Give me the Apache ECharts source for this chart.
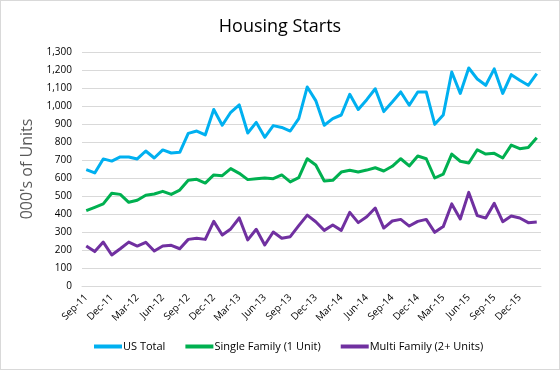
<!DOCTYPE html>
<html>
<head>
<meta charset="utf-8">
<script src="https://cdn.jsdelivr.net/npm/echarts@6/dist/echarts.min.js"></script>
<style>
html,body{margin:0;padding:0;background:#fff;}
#c{width:558px;height:368px;border:1px solid #d9d9d9;}
</style>
</head>
<body>
<div id="c"></div>
<script>
var months = ['Sep-11','Oct-11','Nov-11','Dec-11','Jan-12','Feb-12','Mar-12','Apr-12','May-12','Jun-12','Jul-12','Aug-12',
'Sep-12','Oct-12','Nov-12','Dec-12','Jan-13','Feb-13','Mar-13','Apr-13','May-13','Jun-13','Jul-13','Aug-13',
'Sep-13','Oct-13','Nov-13','Dec-13','Jan-14','Feb-14','Mar-14','Apr-14','May-14','Jun-14','Jul-14','Aug-14',
'Sep-14','Oct-14','Nov-14','Dec-14','Jan-15','Feb-15','Mar-15','Apr-15','May-15','Jun-15','Jul-15','Aug-15',
'Sep-15','Oct-15','Nov-15','Dec-15','Jan-16','Feb-16'];
var usTotal = [646,628,706,694,717,717,706,750,711,756,739,743,
848,861,839,981,893,965,1006,850,909,826,891,881,
861,930,1106,1030,893,930,950,1065,981,1035,1096,969,
1022,1078,1004,1078,1078,898,950,1189,1070,1211,1150,1115,
1206,1070,1174,1143,1115,1180];
var singleFamily = [419,437,456,515,509,465,476,504,511,526,509,533,
587,593,572,617,613,652,626,591,596,600,596,617,
578,602,707,672,583,587,633,643,633,644,657,639,
665,707,667,722,707,600,622,733,693,683,757,733,
737,711,783,763,769,824];
var multiFamily = [222,191,244,172,207,244,222,243,194,222,226,207,
259,265,259,359,283,317,378,256,315,228,300,265,
274,335,394,357,309,339,309,409,352,385,433,322,
361,370,333,359,370,298,330,456,372,520,391,378,
459,357,389,378,352,356];
var seriesNames = ['US Total','Single Family (1 Unit)','Multi Family (2+ Units)'];
var colors = ['#00B0F0','#00B050','#7030A0'];

var chart = echarts.init(document.getElementById('c'));
var font = 'Open Sans, Noto Sans, sans-serif';
function mk(name, data, color){
  return {name:name, type:'line', data:data, symbol:'none', smooth:false,
    lineStyle:{color:color, width:3, join:'round'}, itemStyle:{color:color}};
}
chart.setOption({
  animation:false,
  color: colors,
  title:{text:'Housing Starts', left:'center', top:12,
    textStyle:{fontFamily:font, fontSize:18, fontWeight:'normal', color:'#000'}},
  grid:{left:81, right:18, top:51, bottom:83, containLabel:false},
  legend:{bottom:12, left:88, itemGap:20, itemWidth:28, itemHeight:4, icon:'rect',
    textStyle:{fontFamily:font, fontSize:11, color:'#000', padding:[0,0,0,-4]},
    data:seriesNames},
  xAxis:{type:'category', data:months, boundaryGap:true,
    axisLine:{lineStyle:{color:'#d9d9d9'}}, axisTick:{show:false},
    axisLabel:{interval:2, rotate:45, fontFamily:font, fontSize:10, color:'#000', margin:10}},
  yAxis:{type:'value', min:0, max:1300, interval:100,
    name:"000's of Units", nameLocation:'middle', nameGap:44, nameRotate:90,
    nameTextStyle:{fontFamily:font, fontSize:16, color:'#595959'},
    axisLine:{show:false}, axisTick:{show:false},
    splitLine:{lineStyle:{color:'#d9d9d9', width:1}},
    axisLabel:{fontFamily:font, fontSize:10, color:'#000', margin:10,
      formatter:function(v){return v.toLocaleString('en-US');}}},
  series:[mk(seriesNames[0],usTotal,colors[0]), mk(seriesNames[1],singleFamily,colors[1]), mk(seriesNames[2],multiFamily,colors[2])]
});
</script>
</body>
</html>
